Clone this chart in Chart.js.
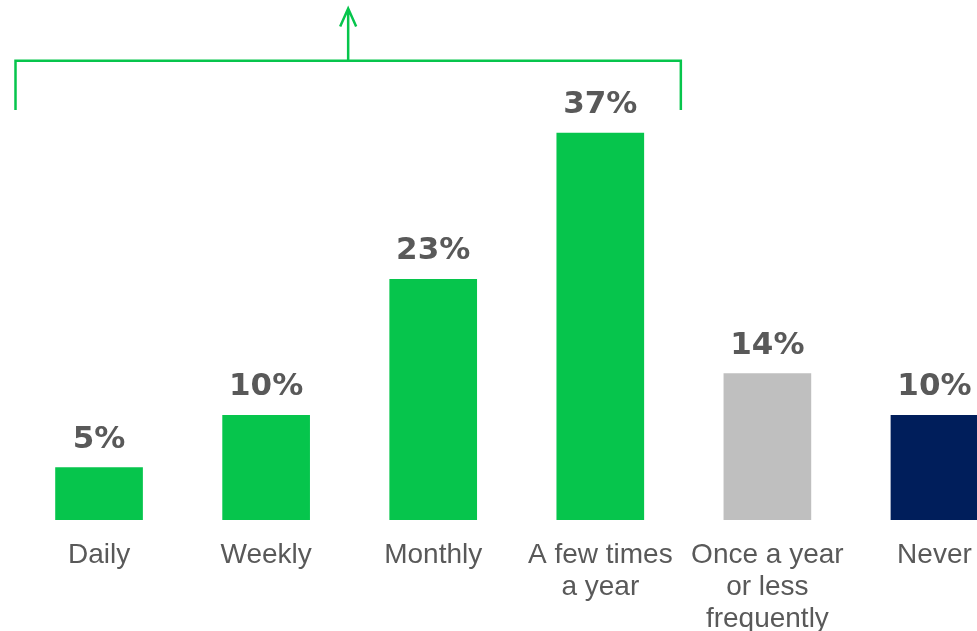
<!DOCTYPE html>
<html>
<head>
<meta charset="utf-8">
<script src="https://cdn.jsdelivr.net/npm/chart.js@4"></script>
<style>
  html, body { margin: 0; padding: 0; background: #fff; overflow: hidden; }
  #wrap { width: 1018px; height: 631px; }
</style>
</head>
<body>
<div id="wrap"><canvas id="chart" width="1018" height="631"></canvas></div>
<script>
const categorias = [
  "Daily",
  "Weekly",
  "Monthly",
  ["A few times", "a year"],
  ["Once a year", "or less", "frequently"],
  "Never",
];
const valores = [5, 10, 23, 37, 14, 10];
const colores = ["#06C54C", "#06C54C", "#06C54C", "#06C54C", "#BFBFBF", "#001E5B"];

// llave verde sobre las cuatro primeras barras (en unidades del eje y)
const llaveDesde = 0;
const llaveHasta = 3;
const llaveBase = 39.2;
const llaveTope = 43.9;
const flechaTope = 48.9;

const GRIS = "#595959";
const VERDE = "#06C54C";

// etiquetas de porcentaje encima de cada barra
const etiquetasPlugin = {
  id: "etiquetas",
  afterDatasetsDraw(chart) {
    const ctx = chart.ctx;
    const meta = chart.getDatasetMeta(0);
    ctx.save();
    ctx.fillStyle = GRIS;
    ctx.font = "bold 31px 'DejaVu Sans'";
    ctx.textAlign = "center";
    ctx.textBaseline = "alphabetic";
    meta.data.forEach((bar, i) => {
      ctx.fillText(valores[i] + "%", bar.x, bar.y - 20);
    });
    ctx.restore();
  },
};

const llavePlugin = {
  id: "llave",
  afterDraw(chart) {
    const ctx = chart.ctx;
    const x = chart.scales.x;
    const y = chart.scales.y;
    const medio = (x.getPixelForTick(1) - x.getPixelForTick(0)) / 2;
    const x0 = x.getPixelForTick(llaveDesde) - medio;
    const x1 = x.getPixelForTick(llaveHasta) + medio - 3;
    const yb = y.getPixelForValue(llaveBase);
    const yt = y.getPixelForValue(llaveTope);
    const ya = y.getPixelForValue(flechaTope);
    const xm = (x0 + x1) / 2;

    ctx.save();
    ctx.strokeStyle = VERDE;
    ctx.lineWidth = 2.5;
    ctx.beginPath();
    ctx.moveTo(x0, yb);
    ctx.lineTo(x0, yt);
    ctx.lineTo(x1, yt);
    ctx.lineTo(x1, yb);
    ctx.moveTo(xm, yt);
    ctx.lineTo(xm, ya);
    ctx.moveTo(xm - 8, ya + 18);
    ctx.lineTo(xm, ya);
    ctx.lineTo(xm + 8, ya + 18);
    ctx.stroke();
    ctx.restore();
  },
};

new Chart(document.getElementById("chart"), {
  type: "bar",
  data: {
    labels: categorias,
    datasets: [
      {
        data: valores,
        backgroundColor: colores,
        barThickness: 87,
      },
    ],
  },
  options: {
    responsive: false,
    animation: false,
    layout: { padding: { left: 15.5, right: 0, top: 101.6, bottom: 0 } },
    plugins: {
      legend: { display: false },
      tooltip: { enabled: false },
    },
    scales: {
      x: {
        grid: { display: false },
        border: { display: false },
        ticks: {
          color: GRIS,
          font: { family: "'Liberation Sans', Arial", size: 28, lineHeight: 32 / 28 },
          padding: 11,
          maxRotation: 0,
          autoSkip: false,
        },
        afterFit(scale) {
          scale.height = 111;
        },
      },
      y: {
        display: false,
        min: 0,
        max: 40,
      },
    },
  },
  plugins: [etiquetasPlugin, llavePlugin],
});
</script>
</body>
</html>
